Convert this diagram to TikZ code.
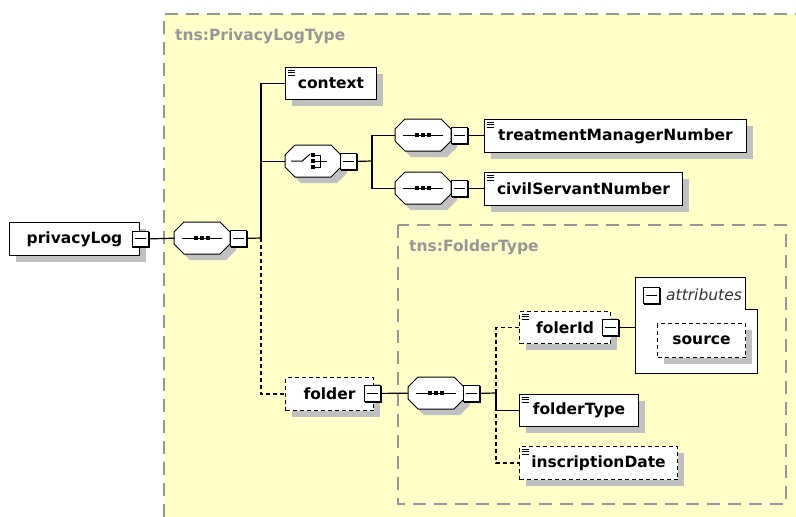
\documentclass[tikz,border=0pt]{standalone}
\usepackage{fontspec}
\setmainfont{DejaVu Sans}
\usetikzlibrary{calc,shadows}
\definecolor{yellowbg}{RGB}{255,255,202}
\definecolor{shadowc}{RGB}{192,192,192}
\definecolor{regc}{RGB}{150,150,150}
\definecolor{labc}{RGB}{150,150,150}
\newcommand\lab{\fontsize{15.5}{18}\selectfont\bfseries}
\newcommand\attrf{\fontsize{15.5}{18}\selectfont\itshape}
\tikzset{
  elem/.style={draw, line width=1pt, fill=white, anchor=north west, inner sep=0pt,
    font=\lab, drop shadow={opacity=1, fill=shadowc, shadow xshift=6pt, shadow yshift=-6pt}},
  optelem/.style={elem, dash pattern=on 4pt off 3pt},
  conn/.style={line width=1.2pt},
  dotline/.style={line width=1.2pt, dash pattern=on 4pt off 3pt},
  regborder/.style={draw=regc, line width=1.2pt, dash pattern=on 13pt off 8pt},
  grayl/.style={text=labc, font=\lab, inner sep=0pt},
  mbtn/.style={anchor=north west, minimum width=16pt, minimum height=16pt, inner sep=0pt,
    draw, line width=0.8pt, fill=white},
}
\newcommand\octa[3]{%
  \fill[shadowc] (#2+16,#3+6) -- (#2+52,#3+6) -- (#2+62,#3+16) -- (#2+62,#3+28) -- (#2+52,#3+38) -- (#2+16,#3+38) -- (#2+6,#3+28) -- (#2+6,#3+16) -- cycle;
  \draw[line width=1pt, fill=white] (#2+10,#3) -- (#2+46,#3) -- (#2+56,#3+10) -- (#2+56,#3+22) -- (#2+46,#3+32) -- (#2+10,#3+32) -- (#2,#3+22) -- (#2,#3+10) -- cycle;
  \node[anchor=north west, minimum width=56pt, minimum height=32pt, inner sep=0pt] (#1) at (#2,#3) {};
}
\newcommand\seqicon[1]{%
  \draw[line width=1pt] ($(#1.center)+(-20,0)$) -- ($(#1.center)+(20,0)$);
  \foreach \d in {-6,0,6} \fill ($(#1.center)+(\d-2,-2)$) rectangle ++(4,4);
}
\newcommand\choiceicon[1]{%
  \draw[line width=1pt] ($(#1.west)+(6,0)$) -- ($(#1.west)+(17,0)$) -- ($(#1.west)+(25,-7)$);
  \draw[line width=1pt] ($(#1.west)+(28,-6)$) -- ($(#1.west)+(35,-6)$) -- ($(#1.west)+(35,6)$) -- ($(#1.west)+(28,6)$);
  \draw[line width=1pt] ($(#1.west)+(28,0)$) -- ($(#1.west)+(42,0)$);
  \foreach \d in {-6,0,6} \fill ($(#1.west)+(26,\d-2)$) rectangle ++(4,4);
}
\newcommand\minusbtn[3]{%
  \node[mbtn] (#1) at (#2,#3) {};
  \draw[line width=0.9pt] ($(#1.west)+(3,0)$) -- ($(#1.east)+(-3,0)$);
  \draw[line width=2pt] ($(#1.north east)+(0,1)$) -- (#1.south east) -- ($(#1.south west)+(1,0)$);
}
\newcommand\elicon[1]{%
  \foreach \k in {0,2.5,5} \draw[line width=0.7pt] ($(#1.north west)+(3,3+\k)$) -- ++(7,0);
}
\begin{document}
\begin{tikzpicture}[x=1pt,y=-1pt]
\useasboundingbox (0,0) rectangle (796,517);
\fill[white] (0,0) rectangle (796,517);
% regions
\fill[yellowbg] (164,14) rectangle (796,517);
\draw[regborder] (164,517) -- (164,14) -- (796,14);
\node[grayl, anchor=west] (lab1) at (175,36) {tns:PrivacyLogType};
\draw[regborder] (398,225) rectangle (786,504);
\node[grayl, anchor=west] (lab2) at (409,247) {tns:FolderType};

% root
\node[elem, minimum width=130pt, minimum height=33pt] (plog) at (9,222) {privacyLog\hspace{6pt}};
\minusbtn{mplog}{132}{230.5}
\octa{seq0}{174}{222}
\seqicon{seq0}
\minusbtn{mseq0}{230}{230}
\coordinate (b0) at (261,238);

% context
\node[elem, minimum width=91pt, minimum height=32pt] (ctx) at (285,67) {context};
\elicon{ctx}

% choice
\octa{cho}{285}{145}
\choiceicon{cho}
\minusbtn{mcho}{340}{153}
\coordinate (b1) at (372,161);

\octa{seq1}{395}{119}
\seqicon{seq1}
\minusbtn{mseq1}{451}{127}
\node[elem, minimum width=262pt, minimum height=33pt] (tmn) at (484,119) {treatmentManagerNumber};
\elicon{tmn}

\octa{seq2}{395}{172}
\seqicon{seq2}
\minusbtn{mseq2}{451}{180}
\node[elem, minimum width=198pt, minimum height=33pt] (csn) at (484,172) {civilServantNumber};
\elicon{csn}

% folder
\node[optelem, minimum width=88pt, minimum height=33pt] (fold) at (285,377) {folder\hspace{12pt}};
\minusbtn{mfold}{364}{385}
\octa{seq3}{408}{377}
\seqicon{seq3}
\minusbtn{mseq3}{463}{385}
\coordinate (b2) at (496,393);

\node[optelem, minimum width=91pt, minimum height=32pt] (fid) at (519,311) {folerId\hspace{12pt}};
\elicon{fid}
\minusbtn{mfid}{602}{319}

% attributes
\draw[line width=1pt, fill=white] (635,277) -- (745,277) -- (745,309) -- (757,309) -- (757,373) -- (635,373) -- cycle;
\node[anchor=north west, minimum width=122pt, minimum height=96pt, inner sep=0pt] (attr) at (635,277) {};
\minusbtn{mattr}{643}{287}
\node[anchor=west, font=\attrf, text=black!80, inner sep=0pt] (attrtxt) at (666,295) {attributes};
\node[optelem, minimum width=88pt, minimum height=34pt] (src) at (657,323) {source};

\node[elem, minimum width=119pt, minimum height=32pt] (ftype) at (519,394) {folderType};
\elicon{ftype}
\node[optelem, minimum width=158pt, minimum height=33pt] (insc) at (519,446) {inscriptionDate};
\elicon{insc}

% connectors
\draw[conn] (mplog.east) -- (seq0.west);
\draw[conn] (mseq0.east) -- (b0);
\draw[conn] (b0) |- (ctx.west);
\draw[conn] (b0) |- (cho.west);
\draw[dotline] (b0) |- (fold.west);
\draw[conn] (mcho.east) -- (b1);
\draw[conn] (b1) |- (seq1.west);
\draw[conn] (b1) |- (seq2.west);
\draw[conn] (mseq1.east) -- (tmn.west |- mseq1.east);
\draw[conn] (mseq2.east) -- (csn.west |- mseq2.east);
\draw[conn] (mfold.east) -- (seq3.west);
\draw[conn] (mseq3.east) -- (b2);
\draw[dotline] (b2) |- (fid.west);
\draw[dotline] (b2) |- (insc.west);
\draw[conn] (b2) |- (ftype.west);
\draw[conn] (mfid.east) -- (attr.west |- mfid.east);
\end{tikzpicture}
\end{document}
